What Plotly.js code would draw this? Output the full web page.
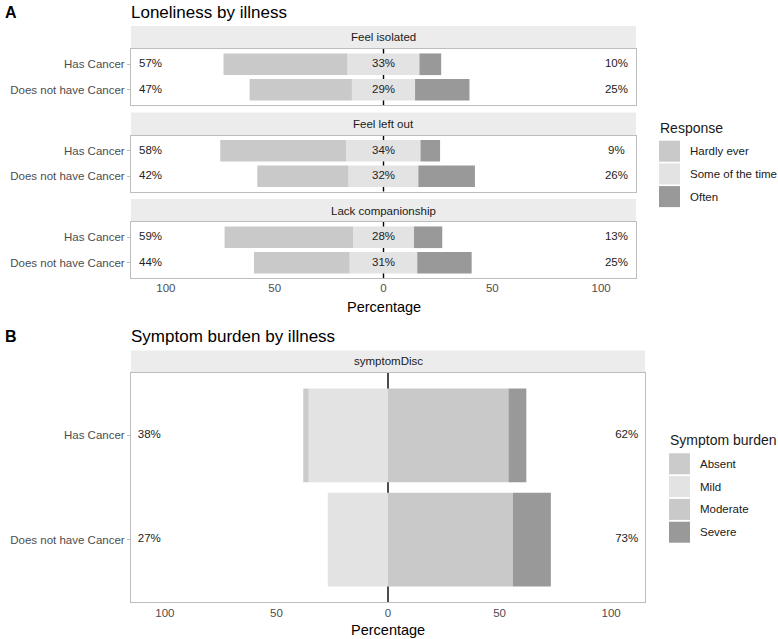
<!DOCTYPE html>
<html><head><meta charset="utf-8">
<script src="https://cdn.plot.ly/plotly-3.0.1.min.js"></script>
<style>body{margin:0;background:#fff}#chart{width:778px;height:639px}</style>
</head><body><div id="chart"></div>
<script>
// ---------- data ----------
const groups = ['Has Cancer', 'Does not have Cancer'];
const lonelinessItems = ['Feel isolated', 'Feel left out', 'Lack companionship'];
const responseLevels = ['Hardly ever', 'Some of the time', 'Often'];
const hardlyEver = [[57, 47], [58, 42], [59, 44]];
const someOfTheTime = [[33, 29], [34, 32], [28, 31]];
const often = [[10, 25], [9, 26], [13, 25]];

const symptomItem = 'symptomDisc';
const symptomLevels = ['Absent', 'Mild', 'Moderate', 'Severe'];
const absent = [2.5, 0];
const mild = [35.5, 27];
const moderate = [54, 56];
const severe = [8, 17];

const tickVals = [-100, -50, 0, 50, 100];
const tickText = ['100', '50', '0', '50', '100'];

// ---------- styles ----------
const responseColors = ['#c9c9c9', '#e3e3e3', '#999999'];
const symptomColors = ['#cbcbcb', '#e3e3e3', '#c9c9c9', '#999999'];
const FONT = 'Liberation Sans, Arial, sans-serif';
const W = 778, H = 639;
const px = x => x / W;
const py = y => 1 - y / H;

// ---------- geometry (pixels) ----------
const A_left = 131, A_right = 636;
const B_left = 131, B_right = 645;
const stripH = 23;
const A_panels = [[49, 105], [135.5, 191.5], [222, 278]];
const B_panel = [373, 602];
const LABEL_X = 107;

const traces = [];
const ax = i => (i === 0 ? '' : String(i + 1));
const round = v => Math.round(v) + '%';

// Panel A bars
lonelinessItems.forEach((item, f) => {
  const h = hardlyEver[f], s = someOfTheTime[f], o = often[f];
  const widths = [h, s, o];
  const bases = [
    h.map((v, k) => -s[k] / 2 - v),
    s.map(v => -v / 2),
    s.map(v => v / 2)
  ];
  responseLevels.forEach((lvl, j) => {
    traces.push({
      type: 'bar', orientation: 'h', name: lvl,
      y: groups, x: widths[j], base: bases[j], width: 0.85,
      marker: {color: responseColors[j], line: {width: 0}},
      xaxis: 'x' + ax(f), yaxis: 'y' + ax(f),
      showlegend: false, hoverinfo: 'skip'
    });
  });
  const textSets = [
    {x: groups.map(() => -LABEL_X), t: h.map(round)},
    {x: groups.map(() => 0), t: s.map(round)},
    {x: groups.map(() => LABEL_X), t: o.map(round)}
  ];
  textSets.forEach(ts => traces.push({
    type: 'scatter', mode: 'text', x: ts.x, y: groups, text: ts.t,
    textfont: {family: FONT, size: 11.5, color: '#222'},
    xaxis: 'x' + ax(f), yaxis: 'y' + ax(f), showlegend: false,
    hoverinfo: 'skip', cliponaxis: false
  }));
});

// Panel A x tick labels: text on the x scale of the bottom facet (separate thin y strip)
traces.push({
  type: 'scatter', mode: 'text', x: tickVals, y: tickVals.map(() => 0.5), text: tickText,
  textfont: {family: FONT, size: 11.5, color: '#4d4d4d'},
  xaxis: 'x3', yaxis: 'y5', showlegend: false, hoverinfo: 'skip', cliponaxis: false
});

// Panel B bars
{
  const series = [absent, mild, moderate, severe];
  const bases = [
    absent.map((v, k) => -(v + mild[k])),
    mild.map(v => -v),
    moderate.map(() => 0),
    moderate.slice()
  ];
  symptomLevels.forEach((lvl, j) => {
    traces.push({
      type: 'bar', orientation: 'h', name: lvl,
      y: groups, x: series[j], base: bases[j], width: 0.9,
      marker: {color: symptomColors[j], line: {width: 0}},
      xaxis: 'x4', yaxis: 'y4', showlegend: false, hoverinfo: 'skip'
    });
  });
  const low = absent.map((v, k) => v + mild[k]);
  const high = moderate.map((v, k) => v + severe[k]);
  traces.push({
    type: 'scatter', mode: 'text', x: groups.map(() => -LABEL_X), y: groups,
    text: low.map(round), textfont: {family: FONT, size: 11.5, color: '#222'},
    xaxis: 'x4', yaxis: 'y4', showlegend: false, hoverinfo: 'skip', cliponaxis: false
  });
  traces.push({
    type: 'scatter', mode: 'text', x: groups.map(() => LABEL_X), y: groups,
    text: high.map(round), textfont: {family: FONT, size: 11.5, color: '#222'},
    xaxis: 'x4', yaxis: 'y4', showlegend: false, hoverinfo: 'skip', cliponaxis: false
  });
}

const layout = {
  width: W, height: H,
  margin: {l: 0, r: 0, t: 0, b: 0},
  paper_bgcolor: '#fff', plot_bgcolor: 'rgba(0,0,0,0)',
  barmode: 'overlay', showlegend: false,
  font: {family: FONT, color: '#4d4d4d'},
  shapes: [], annotations: []
};

function axisPair(i, xDom, yDom, range, showX) {
  const s = ax(i);
  layout['xaxis' + s] = {
    domain: xDom, range: range, anchor: 'y' + s,
    tickvals: tickVals, ticktext: tickText, showticklabels: showX,
    tickfont: {family: FONT, size: 11.5, color: '#4d4d4d'},
    ticks: '', showgrid: false,
    showline: true, mirror: true, linecolor: '#bdbdbd', linewidth: 1,
    zeroline: false, fixedrange: true
  };
  layout['yaxis' + s] = {
    domain: yDom, anchor: 'x' + s, type: 'category',
    categoryorder: 'array', categoryarray: groups.slice().reverse(),
    range: [-0.6, 1.6],
    tickfont: {family: FONT, size: 11.5, color: '#4d4d4d'},
    ticks: 'outside', ticklen: 3, tickcolor: '#bdbdbd', showgrid: false,
    showline: true, mirror: true, linecolor: '#bdbdbd', linewidth: 1,
    zeroline: false, fixedrange: true
  };
  // centre reference line at 0, drawn beneath the bars
  layout.shapes.push({
    type: 'line', xref: 'x' + s, yref: 'y' + s + ' domain',
    x0: 0, x1: 0, y0: 0, y1: 1, line: {color: '#000', width: 1.4}, layer: 'below'
  });
}

A_panels.forEach((p, f) => {
  axisPair(f, [px(A_left), px(A_right)], [py(p[1]), py(p[0])], [-116, 116], false);
  layout.shapes.push({
    type: 'rect', xref: 'paper', yref: 'paper',
    x0: px(A_left), x1: px(A_right), y0: py(p[0]), y1: py(p[0] - stripH),
    fillcolor: '#ececec', line: {width: 0}, layer: 'below'
  });
  layout.annotations.push({
    xref: 'paper', yref: 'paper', x: px((A_left + A_right) / 2), y: py(p[0] - stripH / 2),
    text: lonelinessItems[f], showarrow: false, xanchor: 'center', yanchor: 'middle',
    font: {family: FONT, size: 11.5, color: '#1a1a1a'}
  });
});
// thin strip under panel A holding its x tick labels
layout.yaxis5 = {
  domain: [py(298), py(281)], range: [0, 1], anchor: 'x3',
  visible: false, showgrid: false, zeroline: false, fixedrange: true
};
axisPair(3, [px(B_left), px(B_right)], [py(B_panel[1]), py(B_panel[0])], [-115.2, 115.2], true);
layout.shapes.push({
  type: 'rect', xref: 'paper', yref: 'paper',
  x0: px(B_left), x1: px(B_right), y0: py(B_panel[0]), y1: py(B_panel[0] - 22.5),
  fillcolor: '#ececec', line: {width: 0}, layer: 'below'
});
layout.annotations.push({
  xref: 'paper', yref: 'paper', x: px((B_left + B_right) / 2), y: py(B_panel[0] - 11.5),
  text: symptomItem, showarrow: false, xanchor: 'center', yanchor: 'middle',
  font: {family: FONT, size: 11.5, color: '#1a1a1a'}
});

// Titles and panel letters
const txt = (x, y, text, size, color, extra) => layout.annotations.push(Object.assign({
  xref: 'paper', yref: 'paper', x: px(x), y: py(y), text: text, showarrow: false,
  xanchor: 'left', yanchor: 'middle', font: {family: FONT, size: size, color: color}
}, extra || {}));
txt(3, 12, '<b>A</b>', 16, '#000');
txt(129, 12, 'Loneliness by illness', 17, '#000');
txt(3, 337, '<b>B</b>', 16, '#000');
txt(129, 337, 'Symptom burden by illness', 17, '#000');
txt((A_left + A_right) / 2, 307, 'Percentage', 14.5, '#000', {xanchor: 'center'});
txt(388.3, 630, 'Percentage', 14.5, '#000', {xanchor: 'center'});

// Legends
function legend(title, levels, colors, x, titleY, keyTop, keyStep) {
  txt(x - 1, titleY, title, 14, '#1a1a1a');
  levels.forEach((lvl, j) => {
    const y0 = keyTop + j * keyStep;
    layout.shapes.push({
      type: 'rect', xref: 'paper', yref: 'paper',
      x0: px(x), x1: px(x + 21), y0: py(y0), y1: py(y0 + 21),
      fillcolor: colors[j], line: {width: 0}
    });
    txt(x + 29, y0 + 10.5, lvl, 11.5, '#1a1a1a');
  });
}
legend('Response', responseLevels, responseColors, 659, 128, 140.7, 22.7);
legend('Symptom burden', symptomLevels, symptomColors, 669, 440, 453.3, 22.8);

Plotly.newPlot('chart', traces, layout, {staticPlot: true, displayModeBar: false});
</script>
</body></html>
